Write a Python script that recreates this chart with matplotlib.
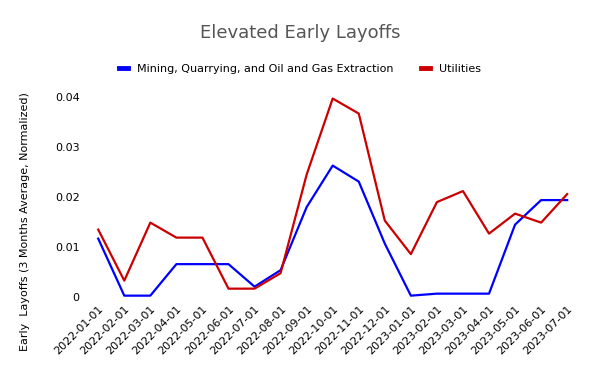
import matplotlib.pyplot as plt

# data
dates = ['2022-01-01', '2022-02-01', '2022-03-01', '2022-04-01', '2022-05-01',
         '2022-06-01', '2022-07-01', '2022-08-01', '2022-09-01', '2022-10-01',
         '2022-11-01', '2022-12-01', '2023-01-01', '2023-02-01', '2023-03-01',
         '2023-04-01', '2023-05-01', '2023-06-01', '2023-07-01']
mining = [0.0116, 0.0002, 0.0002, 0.0065, 0.0065, 0.0065, 0.0020, 0.0053, 0.0179,
          0.0262, 0.0230, 0.0106, 0.0002, 0.0006, 0.0006, 0.0006, 0.0144, 0.0193, 0.0193]
utilities = [0.0134, 0.0032, 0.0148, 0.0118, 0.0118, 0.0016, 0.0016, 0.0047, 0.0244,
             0.0396, 0.0366, 0.0152, 0.0085, 0.0189, 0.0211, 0.0126, 0.0166, 0.0148, 0.0205]
yticks = [0, 0.01, 0.02, 0.03, 0.04]
ytick_labels = ['0', '0.01', '0.02', '0.03', '0.04']

plt.rcParams['font.family'] = ['DejaVu Sans']

fig = plt.figure(figsize=(6, 3.71), dpi=100)
ax = fig.add_axes([0.142, 0.195, 0.825, 0.565])

x = list(range(len(dates)))
ax.plot(x, mining, color='#0000ff', lw=1.6, label='Mining, Quarrying, and Oil and Gas Extraction')
ax.plot(x, utilities, color='#cc0000', lw=1.6, label='Utilities')

ax.set_xlim(-0.5, len(dates) - 0.5)
ax.set_ylim(-0.0004, 0.0415)
ax.set_xticks(x)
ax.set_xticklabels(dates, rotation=45, ha='right', rotation_mode='anchor', fontsize=8)
ax.set_yticks(yticks)
ax.set_yticklabels(ytick_labels, fontsize=8)
ax.tick_params(length=0, pad=4)
for s in ax.spines.values():
    s.set_visible(False)

# label sits a bit lower than centre, as in the reference
ax.set_ylabel('Early  Layoffs (3 Months Average, Normalized)', fontsize=8)
ax.yaxis.set_label_coords(-0.112, 0.37)

fig.suptitle('Elevated Early Layoffs', y=0.935, fontsize=13, color='#555555')
leg = fig.legend(loc='center', bbox_to_anchor=(0.5, 0.815), ncol=2, frameon=False,
                 fontsize=8, handlelength=0.8, columnspacing=2.5)
for h in leg.get_lines():
    h.set_linewidth(3.5)

fig.savefig('out.png', dpi=100)
